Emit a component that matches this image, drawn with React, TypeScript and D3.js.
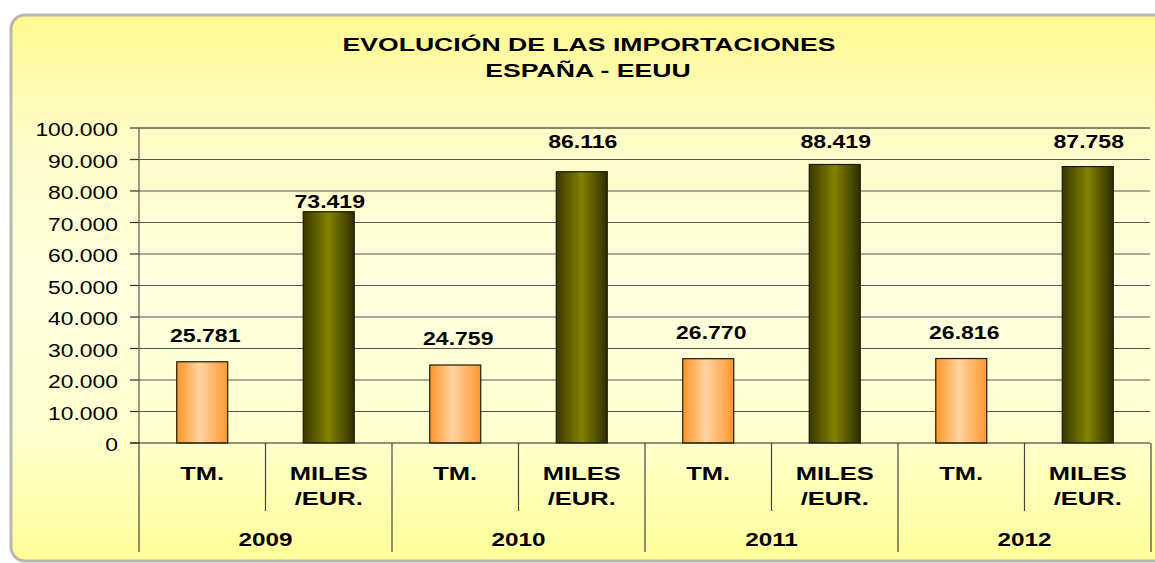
import React from "react";
import * as d3 from "d3";

const years = ["2009", "2010", "2011", "2012"];
const measures = ["TM.", "MILES/EUR."];
const measureLines = [["TM."], ["MILES", "/EUR."]];
const tmValues = [25781, 24759, 26770, 26816];
const milesValues = [73419, 86116, 88419, 87758];
const yTickValues = [0, 10000, 20000, 30000, 40000, 50000, 60000, 70000, 80000, 90000, 100000];
const titleLines = ["EVOLUCIÓN DE LAS IMPORTACIONES", "ESPAÑA - EEUU"];

const W = 1155;
const H = 563;

const locale = d3.formatLocale({ decimal: ",", thousands: ".", grouping: [3], currency: ["", ""] });
const fmt = locale.format(",");

export default function App() {
  const left = 139;
  const right = 1151;
  const top = 128;
  const bottom = 443;

  const x0 = d3.scaleBand<string>().domain(years).range([left, right]).padding(0);
  const x1 = d3.scaleBand<string>().domain(measures).range([0, x0.bandwidth()]).padding(0);
  const y = d3.scaleLinear().domain([0, 100000]).range([bottom, top]);
  const barW = x1.bandwidth() * 0.403;

  const series = [tmValues, milesValues];
  const font = "'Liberation Sans', Arial, sans-serif";

  const stext = (
    key: string,
    x: number,
    yy: number,
    txt: string,
    size: number,
    weight: string,
    sx: number = 1.27,
    anchor: string = "middle"
  ) => (
    <text
      key={key}
      transform={`translate(${x},${yy}) scale(${sx},1)`}
      textAnchor={anchor}
      fontFamily={font}
      fontSize={size}
      fontWeight={weight}
      fill="#000"
    >
      {txt}
    </text>
  );

  const bars: React.ReactNode[] = [];
  const labels: React.ReactNode[] = [];
  years.forEach((yr, i) => {
    series.forEach((vals, s) => {
      const v = vals[i];
      const cx = (x0(yr) as number) + (x1(measures[s]) as number) + x1.bandwidth() / 2;
      const yt = y(v);
      bars.push(
        <rect
          key={`b${i}-${s}`}
          x={cx - barW / 2}
          y={yt}
          width={barW}
          height={bottom - yt}
          fill={s === 0 ? "url(#gTM)" : "url(#gMI)"}
          stroke="#1a1a00"
          strokeWidth={1.2}
        />
      );
      let by: number;
      if (s === 0) by = yt - 20;
      else by = v > 80000 ? y(94000) + 1 : yt - 4;
      labels.push(stext(`l${i}-${s}`, cx + (s === 0 ? 3 : 1), by, fmt(v), 18, "bold", 1.28));
    });
  });

  const seps: React.ReactNode[] = [];
  const nSub = years.length * measures.length;
  for (let k = 0; k <= nSub; k++) {
    const xx = left + k * x1.bandwidth();
    const isGroup = k % measures.length === 0;
    seps.push(
      <line
        key={`s${k}`}
        x1={xx}
        x2={xx}
        y1={bottom}
        y2={isGroup ? 552 : 511}
        stroke="#444"
        strokeWidth={1.2}
      />
    );
  }

  return (
    <div style={{ position: "absolute", left: 0, top: 0 }}>
      <svg width={W} height={H} style={{ display: "block" }}>
        <defs>
          <linearGradient id="bg" x1="0" y1="0" x2="0" y2="1">
            <stop offset="0%" stopColor="#FFF990" />
            <stop offset="22%" stopColor="#FFFCC6" />
            <stop offset="50%" stopColor="#FFFFE0" />
            <stop offset="78%" stopColor="#FFFFCC" />
            <stop offset="100%" stopColor="#FFFF98" />
          </linearGradient>
          <linearGradient id="gTM" x1="0" y1="0" x2="1" y2="0">
            <stop offset="0%" stopColor="#FF9526" />
            <stop offset="45%" stopColor="#FFD3A0" />
            <stop offset="100%" stopColor="#FF9830" />
          </linearGradient>
          <linearGradient id="gMI" x1="0" y1="0" x2="1" y2="0">
            <stop offset="0%" stopColor="#383800" />
            <stop offset="50%" stopColor="#848200" />
            <stop offset="100%" stopColor="#2E2E00" />
          </linearGradient>
        </defs>
        <rect x={0} y={0} width={W} height={H} fill="#fff" />
        <rect
          x={11}
          y={15}
          width={W + 20}
          height={546}
          rx={14}
          ry={14}
          fill="url(#bg)"
          stroke="#b8b8b0"
          strokeWidth={3}
        />
        {/* title */}
        {stext("t0", 589, 51, titleLines[0], 19, "bold", 1.4)}
        {stext("t1", 588, 77, titleLines[1], 19, "bold", 1.4)}
        {/* gridlines */}
        {yTickValues.map((t) =>
          t === 0 ? null : (
            <line
              key={`g${t}`}
              x1={left}
              x2={1150}
              y1={y(t)}
              y2={y(t)}
              stroke={t === 100000 ? "#111" : "#555"}
              strokeWidth={1.2}
            />
          )
        )}
        {/* y ticks */}
        {yTickValues.map((t) => (
          <line key={`tk${t}`} x1={130} x2={left} y1={y(t)} y2={y(t)} stroke="#333" strokeWidth={1.2} />
        ))}
        {yTickValues.map((t) => stext(`yl${t}`, 118, y(t) + 8, fmt(t), 18, "normal", 1.27, "end"))}
        {bars}
        <line x1={left} x2={left} y1={top} y2={bottom} stroke="#555" strokeWidth={1.2} />
        <line x1={130} x2={1150} y1={bottom} y2={bottom} stroke="#222" strokeWidth={1.2} />
        {seps}
        {labels}
        {/* category labels */}
        {years.map((yr) =>
          measures.map((m, s) => {
            const cx = (x0(yr) as number) + (x1(m) as number) + x1.bandwidth() / 2;
            return measureLines[s].map((ln, j) =>
              stext(`c${yr}-${s}-${j}`, cx, 480 + j * 25, ln, 18.5, "bold", 1.38)
            );
          })
        )}
        {years.map((yr) => stext(`y${yr}`, (x0(yr) as number) + x0.bandwidth() / 2, 546, yr, 18, "bold", 1.35))}
      </svg>
    </div>
  );
}
